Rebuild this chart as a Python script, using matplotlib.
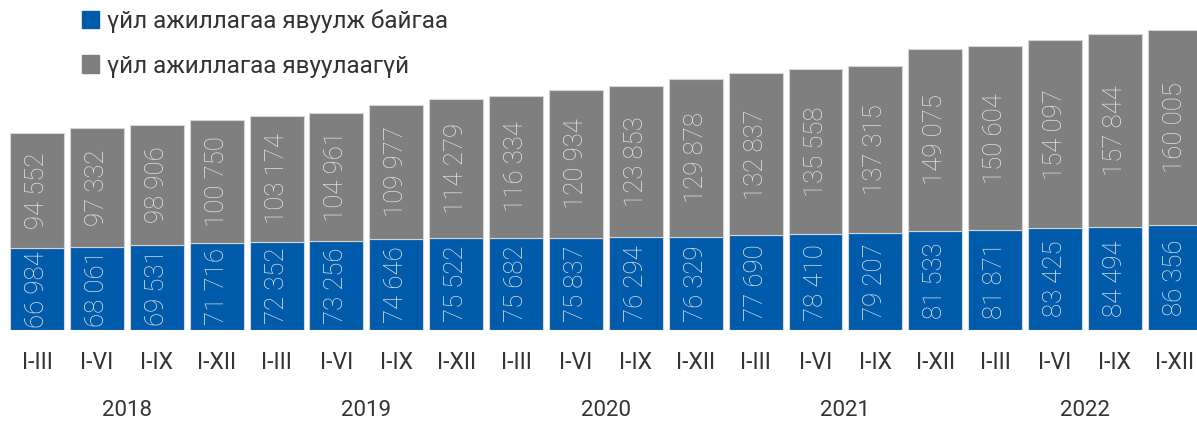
import matplotlib
matplotlib.use("Agg")
import matplotlib.pyplot as plt
import numpy as np

plt.rcParams['font.family'] = ['Roboto', 'DejaVu Sans']

periods = ["I-III", "I-VI", "I-IX", "I-XII"] * 5
years = ["2018", "2019", "2020", "2021", "2022"]
active = [66984, 68061, 69531, 71716, 72352, 73256, 74646, 75522, 75682, 75837,
          76294, 76329, 77690, 78410, 79207, 81533, 81871, 83425, 84494, 86356]
inactive = [94552, 97332, 98906, 100750, 103174, 104961, 109977, 114279, 116334, 120934,
            123853, 129878, 132837, 135558, 137315, 149075, 150604, 154097, 157844, 160005]
legend_labels = ["үйл ажиллагаа явуулж байгаа", "үйл ажиллагаа явуулаагүй"]

blue = "#005BAA"
gray = "#7F7F7F"
txt = "#E6E6E6"

def fmt(v):
    return f"{v:,}".replace(",", " ")

fig = plt.figure(figsize=(11.97, 4.25), dpi=100)
ax = fig.add_axes([0, 1 - 330 / 425, 1, 330 / 425])
x = np.arange(len(active))
ax.bar(x, active, width=0.9, color=blue, edgecolor="#D5D5D5", linewidth=0.8)
ax.bar(x, inactive, width=0.9, bottom=active, color=gray, edgecolor="#D5D5D5", linewidth=0.8)

for i in range(len(x)):
    ax.text(x[i], active[i] / 2, fmt(active[i]), rotation=90, ha="center", va="center",
            color=txt, fontsize=18.5, fontweight="light")
    ax.text(x[i], active[i] + inactive[i] / 2, fmt(inactive[i]), rotation=90, ha="center",
            va="center", color=txt, fontsize=18.5, fontweight="light")

ax.set_xlim(-0.618, 19.37)
ax.set_ylim(0, 270600)
ax.set_xticks(x)
ax.set_xticklabels(periods, fontsize=16.5, color="#333333")
ax.tick_params(axis="x", length=0, pad=15)
ax.set_yticks([])
for s in ax.spines.values():
    s.set_visible(False)

for k, yr in enumerate(years):
    ax.text(4 * k + 1.5, -81 / 330, yr, transform=ax.get_xaxis_transform(), ha="center",
            va="center", fontsize=16, color="#333333")

handles = [plt.Rectangle((0, 0), 1, 1, color=blue), plt.Rectangle((0, 0), 1, 1, color=gray)]
fig.legend(handles, legend_labels, loc="upper left", bbox_to_anchor=(0.05, 1.03),
           frameon=False, fontsize=17.5, handlelength=0.7, handleheight=0.7,
           handletextpad=0.35, labelspacing=0.9, labelcolor="#333333")

fig.savefig("out.png", dpi=100)
